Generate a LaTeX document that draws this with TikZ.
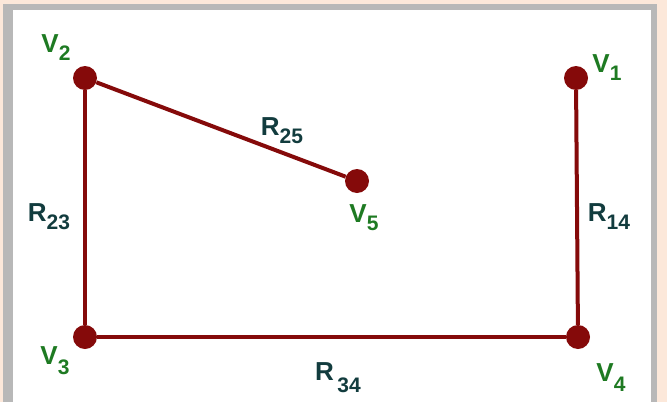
\documentclass[tikz,border=0pt]{standalone}
\usepackage{fontspec}
\setmainfont{Liberation Sans}
\definecolor{fundo}{HTML}{FCE8DA}
\definecolor{moldura}{HTML}{B8B8B8}
\definecolor{aresta}{HTML}{850A0A}
\definecolor{verde}{HTML}{1E7A22}
\definecolor{escuro}{HTML}{123C3E}
\newcommand{\rotulo}[3][8pt]{#2\raisebox{-#1}{\fontsize{21}{21}\selectfont #3}}
\tikzset{
  vert/.style={circle, fill=aresta, inner sep=0pt, minimum size=24pt},
  nomev/.style={text=verde, font=\fontsize{26}{26}\selectfont\bfseries, inner sep=0pt},
  nomer/.style={text=escuro, font=\fontsize{26}{26}\selectfont\bfseries, inner sep=0pt},
  liga/.style={draw=aresta, line width=4pt}
}
\begin{document}
\begin{tikzpicture}[x=1pt, y=-1pt]
        % Fundo e moldura
        \useasboundingbox (0,0) rectangle (667,402);
        \fill[fundo] (0,0) rectangle (667,402);
        \fill[moldura] (3,4) rectangle (657,402);
        \fill[white] (13,10) rectangle (651,402);

        % Vertices
        \node[vert] (v2) at (85,78) {};
        \node[vert] (v1) at (576,78) {};
        \node[vert] (v5) at (357,181) {};
        \node[vert] (v3) at (85,337) {};
        \node[vert] (v4) at (578,337) {};

        % Arestas
        \draw[liga] (v2) -- (v5);
        \draw[liga] (v2) -- (v3);
        \draw[liga] (v3) -- (v4);
        \draw[liga] (v1) -- (v4);

        % Nomes dos vertices
        \node[nomev] (n2) at (56,48) {\rotulo{V}{2}};
        \node[nomev] (n1) at (607,68) {\rotulo{V}{1}};
        \node[nomev] (n5) at (364,218) {\rotulo{V}{5}};
        \node[nomev] (n3) at (55,361) {\rotulo[10pt]{V}{3}};
        \node[nomev] (n4) at (611,378) {\rotulo[10pt]{V}{4}};

        % Resistencias
        \node[nomer] (r25) at (282,131) {\rotulo{R}{25}};
        \node[nomer] (r23) at (49,217) {\rotulo{R}{23}};
        \node[nomer] (r14) at (609,217) {\rotulo{R}{14}};
        \node[nomer] (r34) at (338,378) {\rotulo[12pt]{R}{\,34}};
    \end{tikzpicture}
\end{document}
